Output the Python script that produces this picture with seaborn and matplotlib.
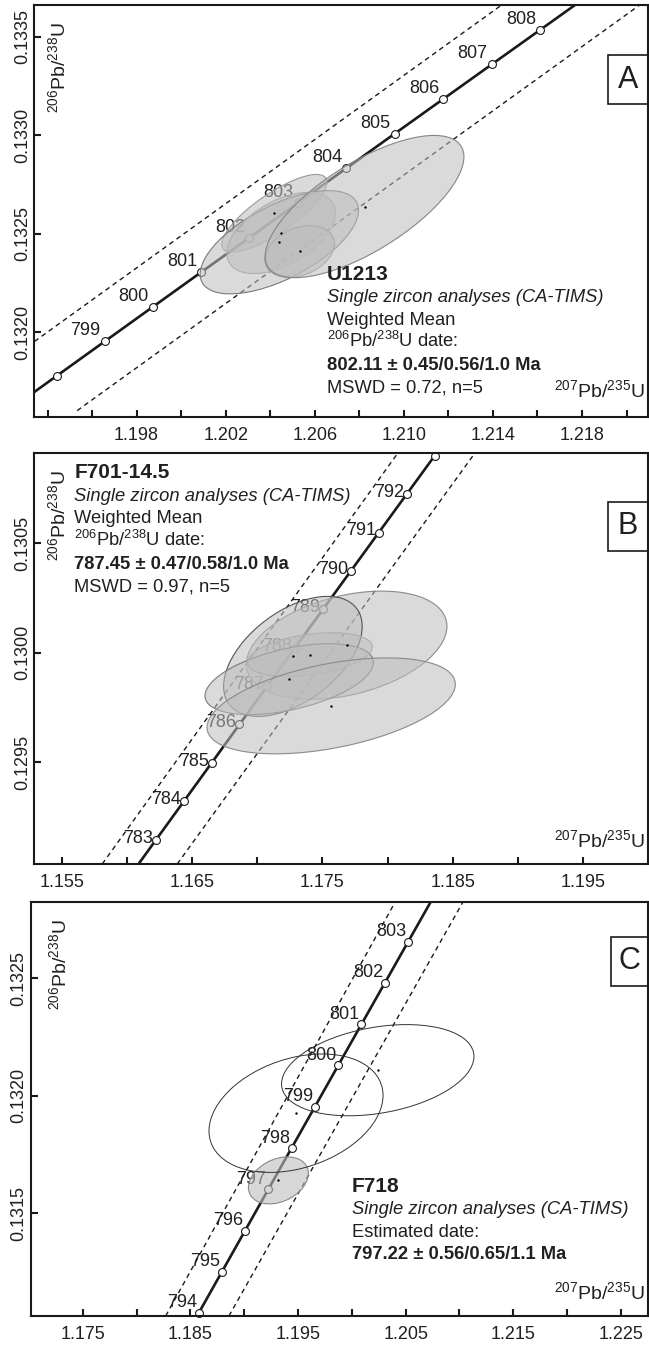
import numpy as np
import pandas as pd
import matplotlib
matplotlib.use("Agg")
import matplotlib.pyplot as plt
import seaborn as sns
from matplotlib.patches import Ellipse, Rectangle

# ---------------- data ----------------
# Panel A (U1213): concordia points, ages 797..809 Ma
A_ages = [797, 798, 799, 800, 801, 802, 803, 804, 805, 806, 807, 808, 809]
A_cx = [1.192243, 1.194403, 1.196566, 1.198730, 1.200896, 1.203065, 1.205236,
        1.207409, 1.209584, 1.211761, 1.213940, 1.216122, 1.218305]
A_cy = [0.1316024, 0.1317779, 0.1319535, 0.1321291, 0.1323047, 0.1324804, 0.1326561,
        0.1328318, 0.1330076, 0.1331833, 0.1333591, 0.1335350, 0.1337108]
A_marker_ages = [798, 799, 800, 801, 802, 803, 804, 805, 806, 807, 808]
A_label_ages = [799, 800, 801, 802, 803, 804, 805, 806, 807, 808]
A_env_lo_x = [1.189100, 1.215000]
A_env_lo_y = [0.1316024, 0.1337108]
A_env_hi_x = [1.195330, 1.221200]
A_env_hi_y = [0.1316024, 0.1337108]
A_ell_x = [1.204184, 1.204409, 1.204490, 1.205321, 1.208234]
A_ell_y = [0.132604, 0.132457, 0.132504, 0.132410, 0.132638]
A_ell_sx = [0.002360, 0.003557, 0.002438, 0.001560, 0.004463]
A_ell_sy = [0.000197, 0.000262, 0.000206, 0.000131, 0.000361]
A_ell_rho = [0.80, 0.62, 0.50, 0.30, 0.70]
A_xticks = [1.194, 1.196, 1.198, 1.200, 1.202, 1.204, 1.206, 1.208, 1.210,
            1.212, 1.214, 1.216, 1.218, 1.220]
A_xticklabels = ["", "", "1.198", "", "1.202", "", "1.206", "", "1.210",
                 "", "1.214", "", "1.218", ""]
A_yticks = [0.1320, 0.1325, 0.1330, 0.1335]
A_yticklabels = ["0.1320", "0.1325", "0.1330", "0.1335"]
A_text = ["U1213", "Single zircon analyses (CA-TIMS)", "Weighted Mean",
          r"$\mathregular{^{206}Pb/^{238}U}$ date:", "802.11 ± 0.45/0.56/1.0 Ma",
          "MSWD = 0.72, n=5"]

# Panel B (F701-14.5): concordia points, ages 782..794 Ma
B_ages = [782, 783, 784, 785, 786, 787, 788, 789, 790, 791, 792, 793, 794]
B_cx = [1.160096, 1.162224, 1.164355, 1.166488, 1.168622, 1.170759, 1.172898,
        1.175039, 1.177182, 1.179327, 1.181475, 1.183624, 1.185776]
B_cy = [0.1289723, 0.1291475, 0.1293226, 0.1294978, 0.1296731, 0.1298483, 0.1300236,
        0.1301989, 0.1303742, 0.1305496, 0.1307250, 0.1309004, 0.1310759]
B_marker_ages = [783, 784, 785, 786, 787, 788, 789, 790, 791, 792, 793]
B_label_ages = [783, 784, 785, 786, 787, 788, 789, 790, 791, 792]
B_env_lo_x = [1.15808, 1.18081]
B_env_lo_y = [0.129036, 0.130914]
B_env_hi_x = [1.16384, 1.18673]
B_env_hi_y = [0.129036, 0.130914]
B_ell_x = [1.176859, 1.172727, 1.172442, 1.174040, 1.175668]
B_ell_y = [0.130035, 0.129984, 0.129880, 0.129992, 0.129758]
B_ell_sx = [0.007704, 0.005323, 0.006467, 0.004800, 0.009539]
B_ell_sy = [0.000247, 0.000274, 0.000162, 0.000100, 0.000219]
B_ell_rho = [0.35, 0.50, 0.47, 0.35, 0.45]
B_xticks = [1.155, 1.160, 1.165, 1.170, 1.175, 1.180, 1.185, 1.190, 1.195]
B_xticklabels = ["1.155", "", "1.165", "", "1.175", "", "1.185", "", "1.195"]
B_yticks = [0.1295, 0.1300, 0.1305]
B_yticklabels = ["0.1295", "0.1300", "0.1305"]
B_text = ["F701-14.5", "Single zircon analyses (CA-TIMS)", "Weighted Mean",
          r"$\mathregular{^{206}Pb/^{238}U}$ date:", "787.45 ± 0.47/0.58/1.0 Ma",
          "MSWD = 0.97, n=5"]

# Panel C (F718): concordia points, ages 793..805 Ma
C_ages = [793, 794, 795, 796, 797, 798, 799, 800, 801, 802, 803, 804, 805]
C_cx = [1.183626, 1.185776, 1.187930, 1.190085, 1.192243, 1.194403, 1.196566,
        1.198730, 1.200896, 1.203065, 1.205236, 1.207409, 1.209584]
C_cy = [0.1309004, 0.1310759, 0.1312513, 0.1314268, 0.1316024, 0.1317779, 0.1319535,
        0.1321291, 0.1323047, 0.1324804, 0.1326561, 0.1328318, 0.1330076]
C_marker_ages = [794, 795, 796, 797, 798, 799, 800, 801, 802, 803]
C_label_ages = [794, 795, 796, 797, 798, 799, 800, 801, 802, 803]
C_env_lo_x = [1.18270, 1.20404]
C_env_lo_y = [0.131063, 0.132826]
C_env_hi_x = [1.18858, 1.21034]
C_env_hi_y = [0.131063, 0.132826]
C_ell_x = [1.193178, 1.194814, 1.202407]
C_ell_y = [0.131640, 0.131926, 0.132109]
C_ell_sx = [0.002788, 0.008086, 0.008940]
C_ell_sy = [0.000100, 0.000252, 0.000194]
C_ell_rho = [0.30, 0.30, 0.30]
C_xticks = [1.175, 1.180, 1.185, 1.190, 1.195, 1.200, 1.205, 1.210, 1.215, 1.220, 1.225]
C_xticklabels = ["1.175", "", "1.185", "", "1.195", "", "1.205", "", "1.215", "", "1.225"]
C_yticks = [0.1315, 0.1320, 0.1325]
C_yticklabels = ["0.1315", "0.1320", "0.1325"]
C_text = ["F718", "Single zircon analyses (CA-TIMS)", "Estimated date:",
          "797.22 ± 0.56/0.65/1.1 Ma"]

AXIS_Y = r"$\mathregular{^{206}Pb/^{238}U}$"
AXIS_X = r"$\mathregular{^{207}Pb/^{235}U}$"

# ---------------- styling / layout ----------------
TXT = "#231f20"
sns.set_theme(style="white")
plt.rcParams.update({
    "font.family": ["Liberation Sans", "DejaVu Sans"],
    "mathtext.fontset": "custom",
    "mathtext.rm": "Liberation Sans",
    "mathtext.it": "Liberation Sans:italic",
    "mathtext.bf": "Liberation Sans:bold",
    "text.color": TXT,
    "axes.edgecolor": "#1a1a1a",
    "axes.linewidth": 1.5,
    "xtick.color": "#1a1a1a",
    "ytick.color": "#1a1a1a",
    "xtick.labelcolor": TXT,
    "ytick.labelcolor": TXT,
})

W, H = 649, 1345
fig = plt.figure(figsize=(W / 100, H / 100), dpi=100)
fig.patch.set_facecolor("white")


def fx(px):
    return px / W


def fy(py):
    return 1 - py / H


def add_ellipse(ax, cx, cy, sx, sy, rho, fc, ec, lw, z):
    cov = np.array([[sx * sx, rho * sx * sy], [rho * sx * sy, sy * sy]])
    vals, vecs = np.linalg.eigh(cov)
    ang = np.degrees(np.arctan2(vecs[1, 1], vecs[0, 1]))
    e = Ellipse((cx, cy), 2 * np.sqrt(vals[1]), 2 * np.sqrt(vals[0]), angle=ang,
                facecolor=fc, edgecolor=ec, lw=lw, zorder=z)
    ax.add_patch(e)


panels = [
    dict(box=(34.4, 5, 647.5, 417), xlim=(1.19341, 1.22094), ylim=(0.13157, 0.133661),
         ages=A_ages, cx=A_cx, cy=A_cy, marks=A_marker_ages, labs=A_label_ages,
         env=[(A_env_lo_x, A_env_lo_y), (A_env_hi_x, A_env_hi_y)],
         ell=(A_ell_x, A_ell_y, A_ell_sx, A_ell_sy, A_ell_rho),
         ell_fc=[(0.74, 0.74, 0.74, 0.55)] * 5,
         ell_ec=["#9a9a9a", "#7a7a7a", "#b0b0b0", "#9a9a9a", "#858585"],
         ell_lw=[0.8] * 5,
         xt=A_xticks, xtl=A_xticklabels, yt=A_yticks, ytl=A_yticklabels,
         lab_off=(-13.7, 7.6), letter="A", letter_box=(608.4, 55, 49), letter_c=(628, 79.5),
         text=A_text, text_xy=(327, 279.5), bold=[0, 4], big=[0],
         ylab=(58, 68), xlab=(645, 397)),
    dict(box=(34.4, 452.7, 647.5, 864), xlim=(1.15287, 1.19997), ylim=(0.129036, 0.130914),
         ages=B_ages, cx=B_cx, cy=B_cy, marks=B_marker_ages, labs=B_label_ages,
         env=[(B_env_lo_x, B_env_lo_y), (B_env_hi_x, B_env_hi_y)],
         ell=(B_ell_x, B_ell_y, B_ell_sx, B_ell_sy, B_ell_rho),
         ell_fc=[(0.74, 0.74, 0.74, 0.55)] * 5,
         ell_ec=["#8a8a8a", "#555555", "#7a7a7a", "#b0b0b0", "#8a8a8a"],
         ell_lw=[0.8] * 5,
         xt=B_xticks, xtl=B_xticklabels, yt=B_yticks, ytl=B_yticklabels,
         lab_off=(-13.0, 1.1), letter="B", letter_box=(608.4, 501.5, 49), letter_c=(628, 526),
         text=B_text, text_xy=(74.5, 478.2), bold=[0, 4], big=[0],
         ylab=(58, 516), xlab=(645, 847.5)),
    dict(box=(31, 901.7, 647.5, 1316), xlim=(1.17019, 1.22747), ylim=(0.131063, 0.132826),
         ages=C_ages, cx=C_cx, cy=C_cy, marks=C_marker_ages, labs=C_label_ages,
         env=[(C_env_lo_x, C_env_lo_y), (C_env_hi_x, C_env_hi_y)],
         ell=(C_ell_x, C_ell_y, C_ell_sx, C_ell_sy, C_ell_rho),
         ell_fc=[(0.74, 0.74, 0.74, 0.6), "none", "none"],
         ell_ec=["#8a8a8a", "#333333", "#333333"],
         ell_lw=[0.8, 0.7, 0.7],
         xt=C_xticks, xtl=C_xticklabels, yt=C_yticks, ytl=C_yticklabels,
         lab_off=(-12.2, 7.2), letter="C", letter_box=(610.5, 936.7, 49.3), letter_c=(629, 961),
         text=C_text, text_xy=(351.8, 1191.5), bold=[0, 3], big=[0],
         ylab=(59, 965), xlab=(645, 1299)),
]

for P in panels:
    l, t, r, b = P["box"]
    ax = fig.add_axes([fx(l), fy(b), fx(r) - fx(l), fy(t) - fy(b)])
    ax.set_facecolor("white")

    # uncertainty envelope (dashed)
    for ex, ey in P["env"]:
        sns.lineplot(x=ex, y=ey, sort=False, estimator=None, color="#1a1a1a",
                     lw=1.0, linestyle=(0, (3.5, 2.8)), ax=ax, zorder=2)
    # concordia
    conc = pd.DataFrame({"age": P["ages"], "x": P["cx"], "y": P["cy"]})
    sns.lineplot(data=conc, x="x", y="y", sort=False, estimator=None,
                 color="#1a1a1a", lw=1.9, ax=ax, zorder=3)
    mk = conc[conc["age"].isin(P["marks"])]
    sns.scatterplot(data=mk, x="x", y="y", s=32, color="white", edgecolor="#1a1a1a",
                    linewidth=0.8, ax=ax, zorder=4, clip_on=False)
    for _, row in conc[conc["age"].isin(P["labs"])].iterrows():
        ax.annotate(str(int(row["age"])), xy=(row["x"], row["y"]), xytext=P["lab_off"],
                    textcoords="offset points", ha="center", va="center",
                    fontsize=13, color=TXT, zorder=4.5)

    # error ellipses
    ex_, ey_, esx, esy, erho = P["ell"]
    for i in range(len(ex_)):
        add_ellipse(ax, ex_[i], ey_[i], esx[i], esy[i], erho[i],
                    P["ell_fc"][i], P["ell_ec"][i], P["ell_lw"][i], 5)
    sns.scatterplot(x=ex_, y=ey_, s=3, color="black", linewidth=0, ax=ax, zorder=6)

    ax.set_xlim(*P["xlim"])
    ax.set_ylim(*P["ylim"])
    ax.set_xlabel("")
    ax.set_ylabel("")
    ax.set_xticks(P["xt"])
    ax.set_xticklabels(P["xtl"])
    ax.set_yticks(P["yt"])
    ax.set_yticklabels(P["ytl"])
    ax.tick_params(axis="both", direction="in", length=5, width=1.5,
                   labelsize=13, top=False, right=False, bottom=True, left=True)
    ax.tick_params(axis="x", pad=7)
    ax.tick_params(axis="y", pad=2.5)
    for lab in ax.get_yticklabels():
        lab.set_rotation(90)
        lab.set_va("center")
        lab.set_ha("right")
    for s in ax.spines.values():
        s.set_visible(True)
        s.set_linewidth(1.5)
        s.set_color("#1a1a1a")
        s.set_zorder(8)

    # panel letter box
    bx, by, bh = P["letter_box"]
    ax_w = r - l
    ax_h = b - t
    rect = Rectangle(((bx - l) / ax_w, 1 - (by + bh - t) / ax_h), (700 - bx) / ax_w, bh / ax_h,
                     transform=ax.transAxes, facecolor="white", edgecolor="#1a1a1a",
                     lw=1.2, zorder=7, clip_on=True)
    ax.add_patch(rect)
    lx, ly = P["letter_c"]
    ax.text((lx - l) / ax_w, 1 - (ly - t) / ax_h, P["letter"], transform=ax.transAxes,
            ha="center", va="center", fontsize=22, color=TXT, zorder=9)

    # axis titles inside the frame
    fig.text(fx(P["ylab"][0]), fy(P["ylab"][1]), AXIS_Y, rotation=90, ha="center",
             va="center", fontsize=14, color=TXT)
    fig.text(fx(P["xlab"][0]), fy(P["xlab"][1]), AXIS_X, ha="right", va="baseline",
             fontsize=14, color=TXT)

    # annotation block
    tx, ty = P["text_xy"]
    for i, line in enumerate(P["text"]):
        weight = "bold" if i in P["bold"] else "normal"
        style = "italic" if line.startswith("Single") else "normal"
        size = 15 if i in P["big"] else 13.2
        fig.text(fx(tx), fy(ty + i * 22.6), line, ha="left", va="baseline",
                 fontsize=size, fontweight=weight, fontstyle=style, color=TXT)

fig.savefig("out.png", dpi=100, facecolor="white")
